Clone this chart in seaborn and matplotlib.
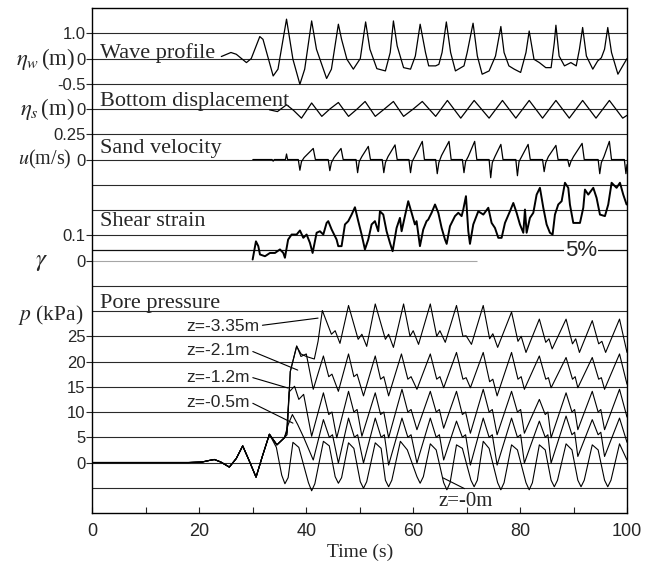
import numpy as np
import seaborn as sns
import matplotlib.pyplot as plt
from matplotlib.transforms import blended_transform_factory

# ---- values (time in s) ----
wave_t = [24.1, 25.9, 26.9, 28.8, 29.7, 31.3, 31.9, 33.8, 34.7, 36.3,
          37.5, 38.8, 39.7, 41.0, 41.9, 43.8, 44.7, 46.0, 46.6, 47.6,
          48.8, 50.1, 51.1, 51.9, 53.2, 54.8, 55.7, 56.3, 57.0, 58.2,
          59.5, 60.4, 61.3, 62.3, 62.9, 64.2, 64.8, 65.4, 66.2, 67.0,
          67.9, 69.5, 70.1, 71.2, 72.0, 72.9, 74.2, 75.4, 76.4, 77.0,
          77.9, 78.9, 80.1, 81.1, 81.7, 82.6, 83.6, 84.8, 85.8, 86.4,
          86.7, 87.3, 88.3, 89.5, 90.5, 91.1, 91.7, 92.4, 93.6, 94.5,
          95.2, 95.8, 96.4, 97.1, 98.3, 99.2, 100.0]
wave_eta = [0.08, 0.24, 0.17, -0.16, 0.0, 0.87, 0.76, -0.69, -0.42, 1.56,
            -0.03, -1.02, -0.42, 1.49, 0.37, -0.79, -0.42, 1.36, 0.76, -0.03,
            -0.42, 0.0, 1.45, 0.37, -0.40, -0.49, 0.24, 1.49, 0.50, -0.36,
            -0.42, 0.10, 1.36, 0.24, -0.29, -0.29, -0.23, 0.24, 1.45, 0.24,
            -0.49, -0.29, 0.24, 1.40, 0.10, -0.62, -0.49, 0.10, 1.27, 0.24,
            -0.29, -0.42, -0.55, 0.24, 1.09, -0.03, -0.16, -0.36, -0.36, 0.63,
            1.32, 0.10, -0.29, -0.16, -0.29, 0.37, 1.23, 0.10, -0.42, -0.10,
            0.03, 0.37, 1.23, 0.24, -0.62, -0.29, 0.0]

bed_t = [33.1, 34.6, 36.3, 37.6, 39.1, 41.0, 42.9, 44.4, 46.0, 47.9,
         49.5, 51.0, 52.9, 54.6, 56.3, 58.2, 60.0, 61.7, 64.2, 66.4,
         68.9, 71.4, 74.2, 76.7, 79.2, 81.7, 84.2, 86.7, 89.2, 91.7,
         94.2, 96.7, 99.2, 100.0]
bed_eta = [-0.03, -0.10, 0.17, -0.05, -0.36, 0.24, -0.29, 0.0, 0.26, -0.29,
           0.0, 0.30, -0.29, 0.0, 0.30, -0.29, 0.0, 0.30, -0.29, 0.34,
           -0.36, 0.34, -0.36, 0.34, -0.36, 0.34, -0.36, 0.34, -0.36, 0.34,
           -0.36, 0.34, -0.36, -0.25]

vel_t = [30.0, 33.6, 33.8, 34.0, 36.1, 36.3, 36.5,
         38.5, 38.8, 39.1, 39.6, 41.3, 41.7,
         44.1, 44.4, 44.7, 45.2, 46.5, 46.9,
         49.3, 49.6, 49.9, 50.4, 51.6, 52.0,
         54.2, 54.5, 54.8, 55.3, 56.6, 57.0,
         59.2, 59.5, 59.8, 60.3, 61.7, 62.1,
         64.2, 64.5, 64.8, 65.3, 66.7, 67.1,
         69.2, 69.5, 69.8, 70.3, 71.5, 71.9,
         74.2, 74.5, 74.8, 75.3, 76.4, 76.8,
         79.2, 79.5, 79.8, 80.3, 81.5, 81.9,
         84.2, 84.5, 84.8, 85.3, 86.7, 87.1,
         88.9, 89.2, 89.5, 90.0, 91.6, 92.0,
         94.6, 94.9, 95.2, 95.7, 96.7, 97.1,
         99.5, 99.8, 100.0]
vel_u = [0.0, 0.0, -0.016, 0.0, 0.0, 0.055, 0.0,
         0.0, -0.106, -0.02, 0.02, 0.11, 0.0,
         0.0, -0.11, -0.03, 0.02, 0.11, 0.0,
         0.0, -0.13, -0.02, 0.03, 0.13, 0.0,
         0.0, -0.13, -0.03, 0.03, 0.145, 0.0,
         0.0, -0.13, -0.02, 0.03, 0.18, 0.0,
         0.0, -0.14, -0.03, 0.04, 0.18, 0.0,
         0.0, -0.13, -0.02, 0.03, 0.18, 0.0,
         0.0, -0.18, -0.03, 0.03, 0.15, 0.0,
         0.0, -0.16, -0.02, 0.03, 0.15, 0.0,
         0.0, -0.12, -0.03, 0.03, 0.14, 0.0,
         0.0, -0.07, -0.02, 0.03, 0.16, 0.0,
         0.0, -0.14, -0.03, 0.03, 0.18, 0.0,
         0.0, -0.14, -0.05]

strain_t = [29.96, 30.58, 31.02, 31.33, 32.27, 33.2, 34.14, 35.07, 35.7, 36.0,
            36.6, 37.25, 38.19, 38.81, 39.44, 40.06, 40.68, 41.18, 41.93, 42.55,
            43.18, 43.8, 44.11, 44.74, 45.67, 45.98, 46.6, 47.23, 47.85, 48.48,
            49.1, 49.72, 50.35, 50.97, 51.59, 52.22, 52.84, 53.46, 53.78, 54.4,
            55.02, 55.65, 56.15, 56.89, 57.52, 57.83, 58.45, 59.07, 59.7, 60.32,
            60.63, 61.26, 61.88, 62.5, 62.81, 63.44, 64.08, 64.7, 65.32, 65.95,
            66.26, 66.88, 67.82, 68.44, 69.06, 69.37, 69.87, 70.31, 70.62, 71.24,
            72.18, 73.12, 74.05, 74.67, 75.3, 75.92, 76.54, 77.17, 78.1, 78.73,
            79.35, 79.97, 80.6, 80.91, 81.22, 81.84, 82.47, 83.09, 83.71, 84.34,
            84.96, 85.58, 86.08, 86.52, 87.14, 87.77, 88.39, 89.01, 89.32, 89.95,
            91.2, 91.82, 92.13, 92.75, 93.69, 94.31, 94.94, 95.87, 96.49, 97.12,
            98.05, 98.68, 99.3, 99.92]
strain_gamma = [0.004, 0.076, 0.057, 0.024, 0.017, 0.030, 0.030, 0.044, 0.030, 0.011,
                0.083, 0.103, 0.103, 0.119, 0.090, 0.103, 0.070, 0.030, 0.110, 0.116,
                0.103, 0.149, 0.156, 0.123, 0.083, 0.057, 0.057, 0.143, 0.156, 0.182,
                0.211, 0.156, 0.103, 0.044, 0.083, 0.143, 0.156, 0.116, 0.195, 0.182,
                0.116, 0.070, 0.037, 0.129, 0.169, 0.116, 0.176, 0.235, 0.189, 0.143,
                0.156, 0.057, 0.123, 0.156, 0.162, 0.189, 0.222, 0.189, 0.129, 0.083,
                0.066, 0.136, 0.176, 0.189, 0.176, 0.202, 0.255, 0.116, 0.066, 0.143,
                0.195, 0.182, 0.209, 0.149, 0.129, 0.090, 0.090, 0.149, 0.195, 0.228,
                0.189, 0.143, 0.110, 0.202, 0.110, 0.169, 0.189, 0.261, 0.288, 0.209,
                0.143, 0.110, 0.103, 0.182, 0.222, 0.235, 0.308, 0.288, 0.222, 0.149,
                0.149, 0.209, 0.281, 0.261, 0.288, 0.248, 0.182, 0.176, 0.222, 0.308,
                0.288, 0.308, 0.261, 0.222]

# pore pressure (kPa): common start, then one trace per depth
pp_early_t = [0.0, 18.0, 20.5, 21.8, 22.8, 24.0, 25.6, 26.9, 28.1, 29.3, 30.6, 31.8, 33.1]
pp_early_p = [0.0, 0.0, 0.1, 0.4, 0.6, 0.1, -0.9, 0.8, 3.3, 0.4, -2.9, 1.3, 5.6]

pp335_t = [34.5, 35.9, 36.4, 37.0, 38.2, 39.0, 40.0, 41.5, 42.2, 43.0,
           44.7, 45.4, 46.3, 47.9, 49.7, 50.4, 51.3, 52.9, 54.8, 55.4,
           56.3, 58.2, 59.4, 60.0, 61.0, 63.2, 64.4, 65.0, 66.0, 68.1,
           69.3, 69.9, 70.9, 73.1, 74.3, 74.9, 75.8, 78.4, 79.6, 80.2,
           81.1, 83.6, 84.8, 85.4, 86.0, 88.6, 89.8, 90.4, 91.1, 93.5,
           94.7, 95.3, 96.0, 98.6, 100.0]
pp335_p = [3.5, 4.9, 6.0, 18.0, 23.0, 21.5, 21.0, 20.5, 24.0, 30.1,
           25.4, 26.1, 23.6, 31.1, 24.4, 25.4, 23.0, 31.4, 24.4, 25.4,
           22.8, 31.4, 25.0, 26.1, 23.4, 31.4, 25.0, 26.1, 23.8, 31.1,
           25.0, 25.1, 23.4, 31.1, 24.5, 25.5, 22.8, 29.8, 24.0, 25.0,
           21.8, 28.4, 23.8, 24.5, 22.5, 28.4, 23.5, 24.5, 21.8, 28.1,
           23.5, 24.0, 21.8, 28.4, 21.8]

pp21_t = [34.5, 35.9, 36.4, 37.0, 38.2, 39.0, 40.0, 41.3, 43.2, 44.2,
          44.8, 46.0, 47.9, 48.9, 49.5, 50.7, 52.9, 53.9, 54.5, 55.4,
          57.8, 59.0, 59.6, 60.7, 63.2, 64.4, 65.0, 65.7, 68.1, 69.3,
          69.9, 70.7, 73.1, 74.3, 74.9, 75.7, 78.4, 79.6, 80.2, 80.8,
          83.6, 84.8, 85.3, 85.8, 88.6, 89.8, 90.3, 90.8, 93.5, 94.7,
          95.2, 95.8, 98.6, 100.0]
pp21_p = [3.5, 4.9, 5.5, 18.0, 23.1, 21.0, 21.5, 14.5, 21.1, 17.0,
          17.5, 14.1, 21.5, 17.0, 17.5, 13.2, 21.1, 16.5, 17.0, 13.2,
          21.5, 16.5, 17.0, 14.5, 21.5, 16.5, 17.0, 14.8, 21.8, 16.5,
          16.8, 14.8, 21.8, 16.0, 16.5, 13.2, 21.8, 16.5, 17.0, 14.5,
          21.1, 16.5, 16.8, 14.8, 20.8, 16.5, 17.0, 14.8, 20.8, 16.5,
          16.8, 14.5, 21.5, 15.5]

pp12_t = [34.5, 35.9, 36.3, 36.8, 37.8, 38.6, 39.5, 41.0, 43.2, 44.2,
          44.8, 45.7, 47.9, 48.9, 49.5, 50.4, 52.9, 53.9, 54.5, 55.4,
          57.9, 59.0, 59.6, 60.7, 63.2, 64.3, 64.9, 65.7, 68.1, 69.2,
          69.8, 70.7, 73.1, 74.2, 74.8, 75.7, 78.4, 79.5, 80.1, 80.8,
          83.6, 84.7, 85.2, 85.8, 88.6, 89.7, 90.2, 90.8, 93.5, 94.6,
          95.1, 95.8, 98.6, 100.0]
pp12_p = [3.5, 4.9, 6.0, 14.0, 15.1, 12.5, 13.5, 5.2, 13.8, 9.5,
          10.0, 4.9, 14.1, 10.0, 10.5, 5.2, 13.8, 9.5, 10.0, 4.9,
          14.5, 10.0, 10.5, 6.5, 14.1, 10.0, 10.5, 6.8, 14.1, 9.5,
          10.0, 5.8, 14.5, 10.0, 10.5, 5.5, 14.1, 10.0, 10.5, 5.8,
          12.5, 9.5, 10.0, 4.9, 13.8, 10.0, 10.5, 6.5, 14.1, 10.0,
          10.5, 6.5, 14.5, 9.0]

pp05_t = [34.5, 35.9, 36.6, 37.4, 38.4, 39.5, 41.3, 43.2, 44.3, 44.9,
          46.0, 47.9, 49.0, 49.6, 50.7, 52.9, 54.0, 54.6, 55.4, 57.9,
          59.0, 59.6, 60.7, 63.2, 64.3, 64.9, 65.7, 68.1, 69.2, 69.8,
          70.7, 73.1, 74.2, 74.8, 75.7, 78.4, 79.5, 80.1, 80.8, 83.6,
          84.7, 85.2, 85.8, 88.6, 89.7, 90.2, 90.8, 93.5, 94.6, 95.1,
          95.8, 98.6, 100.0]
pp05_p = [3.5, 4.9, 7.5, 9.5, 7.5, 5.0, 0.5, 8.5, 5.0, 5.5,
          -0.1, 8.8, 5.0, 5.5, -0.1, 8.8, 5.0, 5.5, -0.5, 8.8,
          5.0, 5.5, -0.1, 8.8, 5.0, 5.5, 0.5, 8.2, 5.0, 5.5,
          -0.5, 8.8, 5.0, 5.5, -0.5, 8.8, 5.0, 5.5, -0.1, 8.2,
          5.0, 5.5, -0.1, 9.2, 5.5, 6.0, 1.2, 8.5, 5.5, 6.0,
          1.2, 8.8, 4.0]

pp0_t = [34.4, 35.4, 36.0, 36.6, 37.5, 38.6, 40.4, 41.0, 41.6, 43.2,
         44.3, 45.4, 46.0, 46.6, 47.9, 48.9, 50.1, 50.7, 51.3, 52.9,
         54.0, 54.8, 55.4, 56.0, 57.6, 58.9, 60.7, 61.3, 61.9, 63.2,
         64.3, 65.7, 66.3, 66.9, 68.1, 69.2, 70.8, 71.4, 72.0, 73.1,
         74.2, 75.8, 76.4, 77.0, 78.4, 79.5, 81.1, 81.7, 82.3, 83.6,
         84.7, 85.8, 86.4, 87.0, 88.6, 89.7, 90.8, 91.4, 92.0, 93.5,
         94.6, 95.8, 96.4, 97.0, 98.6, 100.0]
pp0_p = [3.0, -2.5, -4.2, -3.0, 4.0, 3.0, -4.0, -5.6, -4.2, 4.2,
         3.3, -2.8, -4.1, -3.0, 3.9, 2.8, -3.8, -5.1, -3.8, 3.9,
         2.8, -3.5, -4.8, -3.5, 4.2, 2.5, -2.8, -4.1, -2.8, 3.7,
         2.5, -4.0, -5.4, -4.0, 3.5, 2.8, -3.5, -4.8, -3.5, 4.2,
         2.8, -4.0, -5.4, -4.0, 3.5, 2.5, -4.0, -5.4, -4.0, 3.5,
         2.5, -3.5, -4.8, -3.5, 3.7, 2.5, -3.5, -4.8, -3.5, 3.5,
         2.5, -3.5, -4.8, -3.5, 3.7, 0.5]

x_ticks = [0, 20, 40, 60, 80, 100]

# ---- layout: one frame, traces stacked on rows (1 row = one grid spacing) ----
sns.set_style("white")
plt.rcParams['font.family'] = ['Liberation Sans', 'DejaVu Sans']
plt.rcParams['mathtext.fontset'] = 'stix'
SERIF = ['Liberation Serif', 'DejaVu Serif']

fig = plt.figure(figsize=(6.56, 5.67), dpi=100)
ax = fig.add_axes([0.141, 0.0952, 0.8148, 0.8906])
ax.set_xlim(0, 100)
ax.set_ylim(0, 20)

grid_rows = [1, 2, 3, 4, 5, 6, 7, 8, 9, 11, 12, 13, 14, 15, 16, 17, 18, 19]
for r in grid_rows:
    ax.axhline(r, color='#2a2a2a', lw=0.8, zorder=1)
ax.hlines(10, 0, 72, color='0.65', lw=0.8, zorder=1)
ax.axhline(10.4, color='#111111', lw=0.9, zorder=1)

# (base row, units per row) for each panel
def draw(t, v, base, per_row, lw=0.9):
    y = base + np.asarray(v) / per_row
    sns.lineplot(x=np.asarray(t), y=y, ax=ax, color='k', lw=lw,
                 estimator=None, sort=False, zorder=3)

draw(wave_t, wave_eta, 18, 1.0)
draw(bed_t, bed_eta, 16, 1.0)
draw(vel_t, vel_u, 14, 0.25, lw=0.9)
draw(strain_t, strain_gamma, 10, 0.1, lw=1.4)
for tt, pp in [(pp335_t, pp335_p), (pp21_t, pp21_p), (pp12_t, pp12_p),
               (pp05_t, pp05_p), (pp0_t, pp0_p)]:
    draw(pp_early_t + tt, pp_early_p + pp, 2, 5.0, lw=0.8)

# panel titles
for label, row in [('Wave profile', 18.04), ('Bottom displacement', 16.12),
                   ('Sand velocity', 14.26), ('Shear strain', 11.37),
                   ('Pore pressure', 8.12)]:
    ax.text(1.4, row, label, family=SERIF, fontsize=16, va='baseline',
            ha='left', zorder=4)

# depth labels with leader lines
lead = dict(arrowstyle='-', color='k', lw=0.8, shrinkA=0, shrinkB=0)
for label, xy, xytext in [('z=-3.35m', (42.2, 7.72), (17.5, 7.39)),
                          ('z=-2.1m', (38.4, 5.66), (17.5, 6.42)),
                          ('z=-1.2m', (36.6, 4.95), (17.5, 5.37)),
                          ('z=-0.5m', (37.5, 3.56), (17.5, 4.38))]:
    ax.annotate(label, xy=xy, xytext=xytext, ha='left', va='center',
                fontsize=12.5, arrowprops=dict(lead, relpos=(1, 0.55)), zorder=4)
ax.annotate('z=-0m', xy=(65.6, 1.39), xytext=(69.8, 0.46), ha='center',
            va='center', fontsize=15, family=SERIF,
            arrowprops=dict(lead, relpos=(0.6, 1.0)), zorder=4)

ax.text(91.4, 10.4, '5%', ha='center', va='center', fontsize=16,
        bbox=dict(fc='white', ec='none', pad=0.6), zorder=4)

# axes / ticks
ax.set_xticks(x_ticks)
ax.set_xticks(range(10, 100, 20), minor=True)
ax.tick_params(axis='x', which='both', direction='in', length=4, width=0.8,
               bottom=True, top=False, labelsize=13, pad=7)
ytick_rows = [19, 18, 17, 16, 15, 14, 11, 10, 7, 6, 5, 4, 3, 2]
ytick_labels = ['1.0', '0', '-0.5', '0', '0.25', '0', '0.1', '0',
                '25', '20', '15', '10', '5', '0']
ax.set_yticks(ytick_rows, ytick_labels)
ax.tick_params(axis='y', direction='out', length=4, width=0.8, left=True,
               labelsize=12, pad=1)
for s in ax.spines.values():
    s.set_visible(True)
    s.set_color('k')
    s.set_linewidth(1.0)

ax.set_xlabel('Time (s)', family=SERIF, fontsize=14)
ax.xaxis.set_label_coords(0.5, -0.06)
ax.set_ylabel('')

# variable names left of the tick labels
trans = blended_transform_factory(fig.transFigure, ax.transData)
for label, xr, row, fs in [(r'$\eta_w\,$(m)', 75, 18, 16.5), (r'$\eta_s\,$(m)', 75, 16, 16.5),
                           (r'$u$(m/s)', 72, 14, 14.5), (r'$p$ (kPa)', 83, 7.85, 15.5)]:
    ax.text(xr / 656, row, label, transform=trans, ha='right', va='center',
            fontsize=fs, family=SERIF)
ax.text(41 / 656, 10, r'$\gamma$', transform=trans, ha='center', va='center',
        fontsize=18)

fig.savefig('out.png', dpi=100)
